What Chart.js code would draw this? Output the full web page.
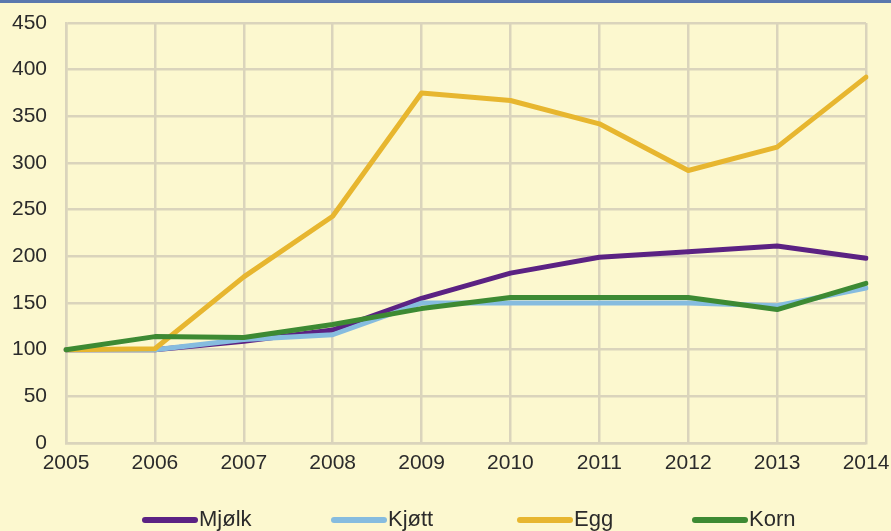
<!DOCTYPE html>
<html>
<head>
<meta charset="utf-8">
<script src="https://cdn.jsdelivr.net/npm/chart.js@4/dist/chart.umd.min.js"></script>
<style>
  html, body { margin: 0; padding: 0; background: #fcf8cf; overflow: hidden; }
  #wrap { position: relative; width: 891px; height: 531px; }
  #topline { position: absolute; left: 0; top: 0; width: 891px; height: 3px; background: #5a78ae; }
  canvas { display: block; }
</style>
</head>
<body>
<div id="wrap">
  <canvas id="c" width="891" height="531"></canvas>
  <div id="topline"></div>
</div>
<script>
const years = ['2005','2006','2007','2008','2009','2010','2011','2012','2013','2014'];
const mjolk = [100, 100, 109, 121, 155, 182, 199, 205, 211, 198];
const kjott = [100, 100, 111, 116, 150, 150, 150, 150, 147, 166];
const egg   = [100, 101, 178, 243, 375, 367, 342, 292, 317, 392];
const korn  = [100, 114, 113, 127, 144, 156, 156, 156, 143, 171];
const yTicks = [0, 50, 100, 150, 200, 250, 300, 350, 400, 450];
const seriesNames = ['Mjølk', 'Kjøtt', 'Egg', 'Korn'];

const FONT = "'Liberation Sans', Arial, sans-serif";
const TEXT = '#2b2b2b';
const gridColor = '#dad4bc';

function ds(label, data, color, order) {
  return { label, data, order, borderColor: color, backgroundColor: color, borderWidth: 5,
           pointRadius: 0, tension: 0, fill: false, borderJoinStyle: 'round', borderCapStyle: 'round' };
}

// custom legend drawn on canvas, spaced like the reference
const legendPlugin = {
  id: 'spacedLegend',
  afterDraw(chart) {
    const ctx = chart.ctx;
    const starts = [142, 331, 517, 692];
    const lineLen = 56, y = 520;
    ctx.save();
    ctx.font = '22px ' + FONT;
    ctx.textBaseline = 'middle';
    ctx.textAlign = 'left';
    chart.data.datasets.forEach((d, i) => {
      const x0 = starts[i];
      ctx.strokeStyle = d.borderColor;
      ctx.lineWidth = 6;
      ctx.lineCap = 'round';
      ctx.beginPath();
      ctx.moveTo(x0 + 3, y);
      ctx.lineTo(x0 + lineLen - 3, y);
      ctx.stroke();
      ctx.fillStyle = TEXT;
      ctx.fillText(d.label, x0 + lineLen + 1, y);
    });
    ctx.restore();
  }
};

new Chart(document.getElementById('c'), {
  type: 'line',
  data: {
    labels: years,
    datasets: [
      ds(seriesNames[0], mjolk, '#5b2283', 3),
      ds(seriesNames[1], kjott, '#86bcdf', 2),
      ds(seriesNames[2], egg, '#e7b62f', 1),
      ds(seriesNames[3], korn, '#3d8a33', 0)
    ]
  },
  plugins: [legendPlugin],
  options: {
    responsive: false,
    animation: false,
    layout: { padding: { left: 0, right: 25, top: 23, bottom: 24 } },
    scales: {
      x: {
        offset: false,
        grid: { color: gridColor, lineWidth: 2.5, drawTicks: false },
        border: { color: gridColor, width: 2.5 },
        ticks: { color: TEXT, font: { family: FONT, size: 21 }, padding: 8, maxRotation: 0, autoSkip: false },
        afterFit: s => { s.height = 64; s.paddingRight = 0; s.paddingLeft = 0; }
      },
      y: {
        min: 0, max: 450,
        afterBuildTicks: s => { s.ticks = yTicks.map(v => ({ value: v })); },
        grid: { color: gridColor, lineWidth: 2.5, drawTicks: false },
        border: { color: gridColor, width: 2.5 },
        ticks: { color: TEXT, font: { family: FONT, size: 21 }, padding: 19 },
        afterFit: s => { s.width = 66; s.paddingTop = 0; s.paddingBottom = 0; }
      }
    },
    plugins: {
      tooltip: { enabled: false },
      legend: { display: false }
    }
  }
});
</script>
</body>
</html>
